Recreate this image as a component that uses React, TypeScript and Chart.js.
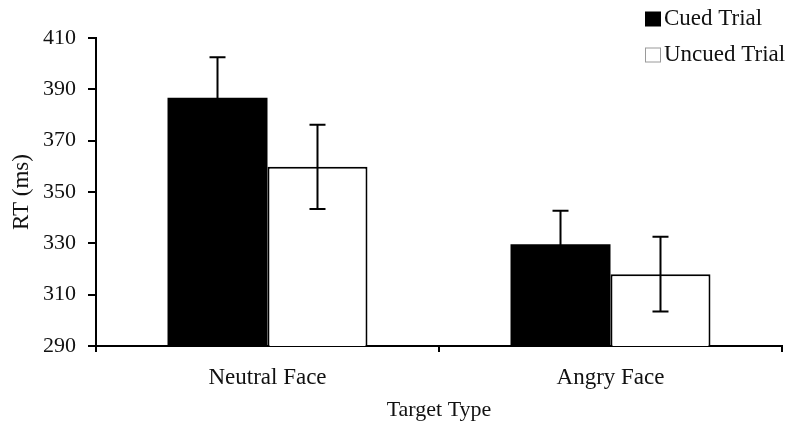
import React, { useEffect, useRef } from "react";
import { Chart, registerables } from "chart.js";

Chart.register(...registerables);

// Mean reaction times (ms) and their error-bar half-lengths
const categories = ["Neutral Face", "Angry Face"];
const cuedRT = [386.7, 329.6];
const cuedErr = [15.8, 13.1];
const uncuedRT = [359.8, 318.0];
const uncuedErr = [16.4, 14.6];
const seriesLabels = ["Cued Trial", "Uncued Trial"];
const yMin = 290;
const yMax = 410;
const yStep = 20;

const FONT = "'Liberation Serif', 'Times New Roman', serif";

// Draws symmetric error bars with caps on top of each bar
const errorBarPlugin = {
  id: "errorBars",
  afterDatasetsDraw(chart: any) {
    const { ctx } = chart;
    const yScale = chart.scales.y;
    const errs = [cuedErr, uncuedErr];
    ctx.save();
    ctx.strokeStyle = "#000";
    ctx.lineWidth = 2;
    chart.data.datasets.forEach((ds: any, i: number) => {
      const meta = chart.getDatasetMeta(i);
      meta.data.forEach((bar: any, j: number) => {
        const v = ds.data[j];
        const e = errs[i][j];
        const x = bar.x;
        const yTop = yScale.getPixelForValue(v + e);
        const yBot = yScale.getPixelForValue(v - e);
        const half = 8;
        ctx.beginPath();
        ctx.moveTo(x, yTop);
        ctx.lineTo(x, yBot);
        ctx.moveTo(x - half, yTop);
        ctx.lineTo(x + half, yTop);
        ctx.moveTo(x - half, yBot);
        ctx.lineTo(x + half, yBot);
        ctx.stroke();
      });
    });
    ctx.restore();
  },
};

// Stacked legend in the upper right corner
const stackedLegendPlugin = {
  id: "stackedLegend",
  afterDraw(chart: any) {
    const { ctx } = chart;
    const x0 = 645;
    const rows = [19, 55];
    ctx.save();
    ctx.font = `23px ${FONT}`;
    ctx.textBaseline = "middle";
    ctx.textAlign = "left";
    chart.data.datasets.forEach((ds: any, i: number) => {
      const cy = rows[i];
      const size = 15;
      ctx.fillStyle = ds.backgroundColor;
      ctx.fillRect(x0, cy - size / 2, 16, size);
      if (ds.backgroundColor === "#ffffff") {
        ctx.strokeStyle = "#9a9a9a";
        ctx.lineWidth = 1;
        ctx.strokeRect(x0 + 0.5, cy - size / 2 + 0.5, 15, size - 1);
      }
      ctx.fillStyle = "#111";
      ctx.fillText(ds.label, x0 + 19, cy);
    });
    ctx.restore();
  },
};

export default function App() {
  const canvasRef = useRef<HTMLCanvasElement | null>(null);

  useEffect(() => {
    if (!canvasRef.current) return;
    const chart = new Chart(canvasRef.current, {
      type: "bar",
      data: {
        labels: categories,
        datasets: [
          {
            label: seriesLabels[0],
            data: cuedRT,
            backgroundColor: "#000000",
            borderColor: "#000000",
            borderWidth: 0,
          },
          {
            label: seriesLabels[1],
            data: uncuedRT,
            backgroundColor: "#ffffff",
            borderColor: "#000000",
            borderWidth: 2,
          },
        ],
      },
      options: {
        animation: false,
        responsive: true,
        maintainAspectRatio: false,
        layout: { padding: { top: 38, right: 7, bottom: 0, left: 0 } },
        datasets: {
          bar: { categoryPercentage: 0.583, barPercentage: 1 },
        },
        plugins: {
          legend: { display: false },
          tooltip: { enabled: false },
        },
        scales: {
          x: {
            afterFit: (s: any) => {
              s.height = 84;
            },
            grid: {
              display: true,
              drawOnChartArea: false,
              drawTicks: true,
              tickLength: 6,
              color: "#000",
              lineWidth: 2,
              offset: true,
            },
            border: { display: true, color: "#000", width: 2 },
            ticks: {
              color: "#111",
              font: { family: FONT, size: 23 },
              padding: 12,
            },
            title: {
              display: true,
              text: "Target Type",
              color: "#111",
              font: { family: FONT, size: 22 },
              padding: { top: 0, bottom: 7 },
            },
          },
          y: {
            min: yMin,
            max: yMax,
            afterFit: (s: any) => {
              s.width = 96;
            },
            grid: {
              display: true,
              drawOnChartArea: false,
              drawTicks: true,
              tickLength: 8,
              color: "#000",
              lineWidth: 2,
            },
            border: { display: true, color: "#000", width: 2 },
            ticks: {
              stepSize: yStep,
              color: "#111",
              font: { family: FONT, size: 22 },
              padding: 12,
            },
            title: {
              display: true,
              text: "RT (ms)",
              color: "#111",
              font: { family: FONT, size: 23 },
              padding: { top: 8, bottom: 0 },
            },
          },
        },
      },
      plugins: [errorBarPlugin, stackedLegendPlugin],
    });
    return () => chart.destroy();
  }, []);

  return (
    <div
      style={{
        position: "absolute",
        left: 0,
        top: 0,
        width: 789,
        height: 430,
        background: "#ffffff",
      }}
    >
      <canvas ref={canvasRef} />
    </div>
  );
}
